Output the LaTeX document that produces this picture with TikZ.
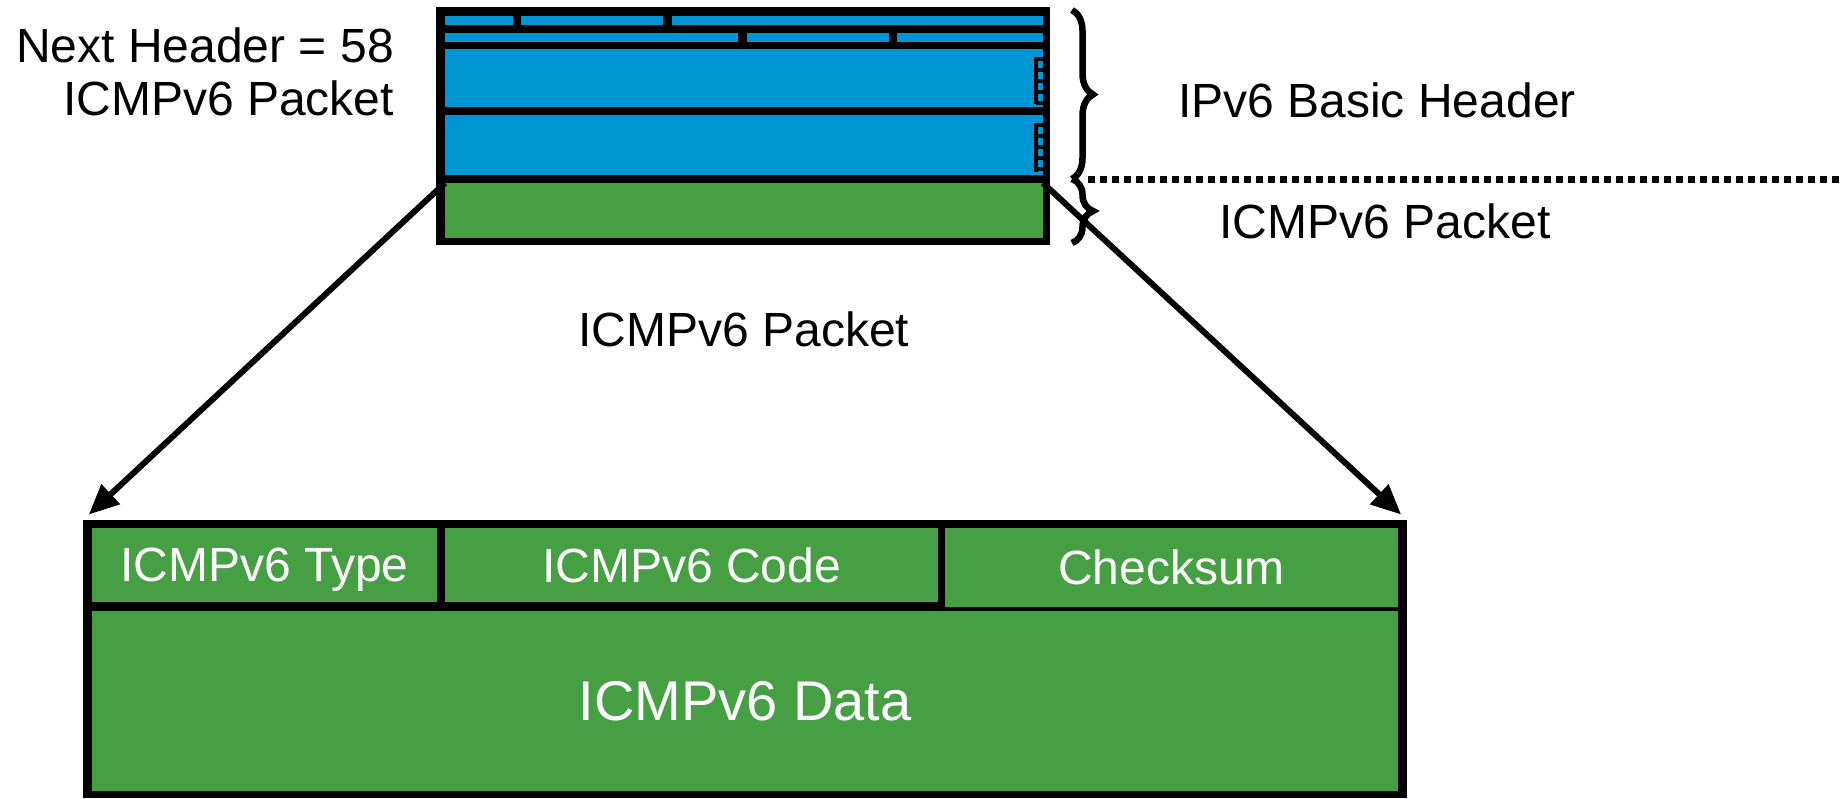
\documentclass[tikz,border=0pt]{standalone}
\usepackage{fontspec}
\setmainfont{Liberation Sans}
\usetikzlibrary{arrows.meta,decorations.pathreplacing}
\definecolor{ipblue}{RGB}{0,150,214}
\definecolor{icmpgreen}{RGB}{70,160,67}
\begin{document}
\begin{tikzpicture}[x=1pt, y=-1pt,
  frame/.style = {fill=black, inner sep=0, outer sep=0},
  cell/.style = {fill=icmpgreen, text=white, inner sep=0, outer sep=0, text depth=0pt, font=\fontsize{48}{58}\selectfont},
  lbl/.style = {inner sep=0, font=\fontsize{48}{53}\selectfont},
  conn/.style = {line width=6pt, -{Triangle[length=30pt,width=26pt]}, shorten >=8pt},
  brc/.style = {line width=6.5pt, decorate, decoration={brace, amplitude=21pt}},
  dots/.style = {line width=7pt, dash pattern=on 7pt off 5pt}]
  \useasboundingbox (0,0) rectangle (1843,798);
  % IPv6 basic header
  \node[frame, minimum width=614pt, minimum height=238pt] (hdr) at (743,126) {};
  \foreach \a/\b in {445/513, 521/663, 672/1043}
    \fill[ipblue] (\a,16) rectangle (\b,25);
  \foreach \a/\b in {445/738, 747/889, 897/1043}
    \fill[ipblue] (\a,33) rectangle (\b,42);
  \fill[ipblue] (445,49) rectangle (1043,107);
  \fill[ipblue] (445,115) rectangle (1043,175);
  \foreach \t/\u in {57/104, 123/172} {
    \draw[line width=4pt] (1036,\t) -- (1036,\u);
    \foreach \k in {0,1,2,3,4}
      \draw[line width=4pt] (1036,\t+2+\k*11) -- (1043,\t+2+\k*11);
  }
  \node[cell, minimum width=598pt, minimum height=55pt] (icmp) at (744,210.5) {};
  % braces and split line
  \coordinate (split) at (1072,179);
  \coordinate (edge) at (1843,179);
  \draw[brc] (1072,10) -- (split);
  \draw[brc] (split) -- (1072,243);
  \draw[dots] ([xshift=16pt]split) -- (edge);
  % labels
  \node[lbl, align=right, anchor=north east] (nh) at (394,28) {Next Header = 58\\ICMPv6 Packet};
  \node[lbl] (basic) at (1377,100) {IPv6 Basic Header};
  \node[lbl] (payload) at (1385,221) {ICMPv6 Packet};
  \node[lbl] (zoomlbl) at (744,329) {ICMPv6 Packet};
  % ICMPv6 packet
  \node[frame, minimum width=1324pt, minimum height=278pt] (msg) at (745,659) {};
  \node[cell, minimum width=345pt, minimum height=74pt] (type) at (264.5,565) {ICMPv6 Type};
  \node[cell, minimum width=493pt, minimum height=74pt] (code) at (691.5,565) {ICMPv6 Code};
  \node[cell, minimum width=453pt, minimum height=79pt] (csum) at (1171.5,567.5) {Checksum};
  \node[cell, minimum width=1306pt, minimum height=180pt, font=\fontsize{56}{66}\selectfont] (data) at (745,701) {ICMPv6 Data};
  \draw[conn] (icmp.north west) -- (msg.north west);
  \draw[conn] (icmp.north east) -- (msg.north east);
\end{tikzpicture}
\end{document}
